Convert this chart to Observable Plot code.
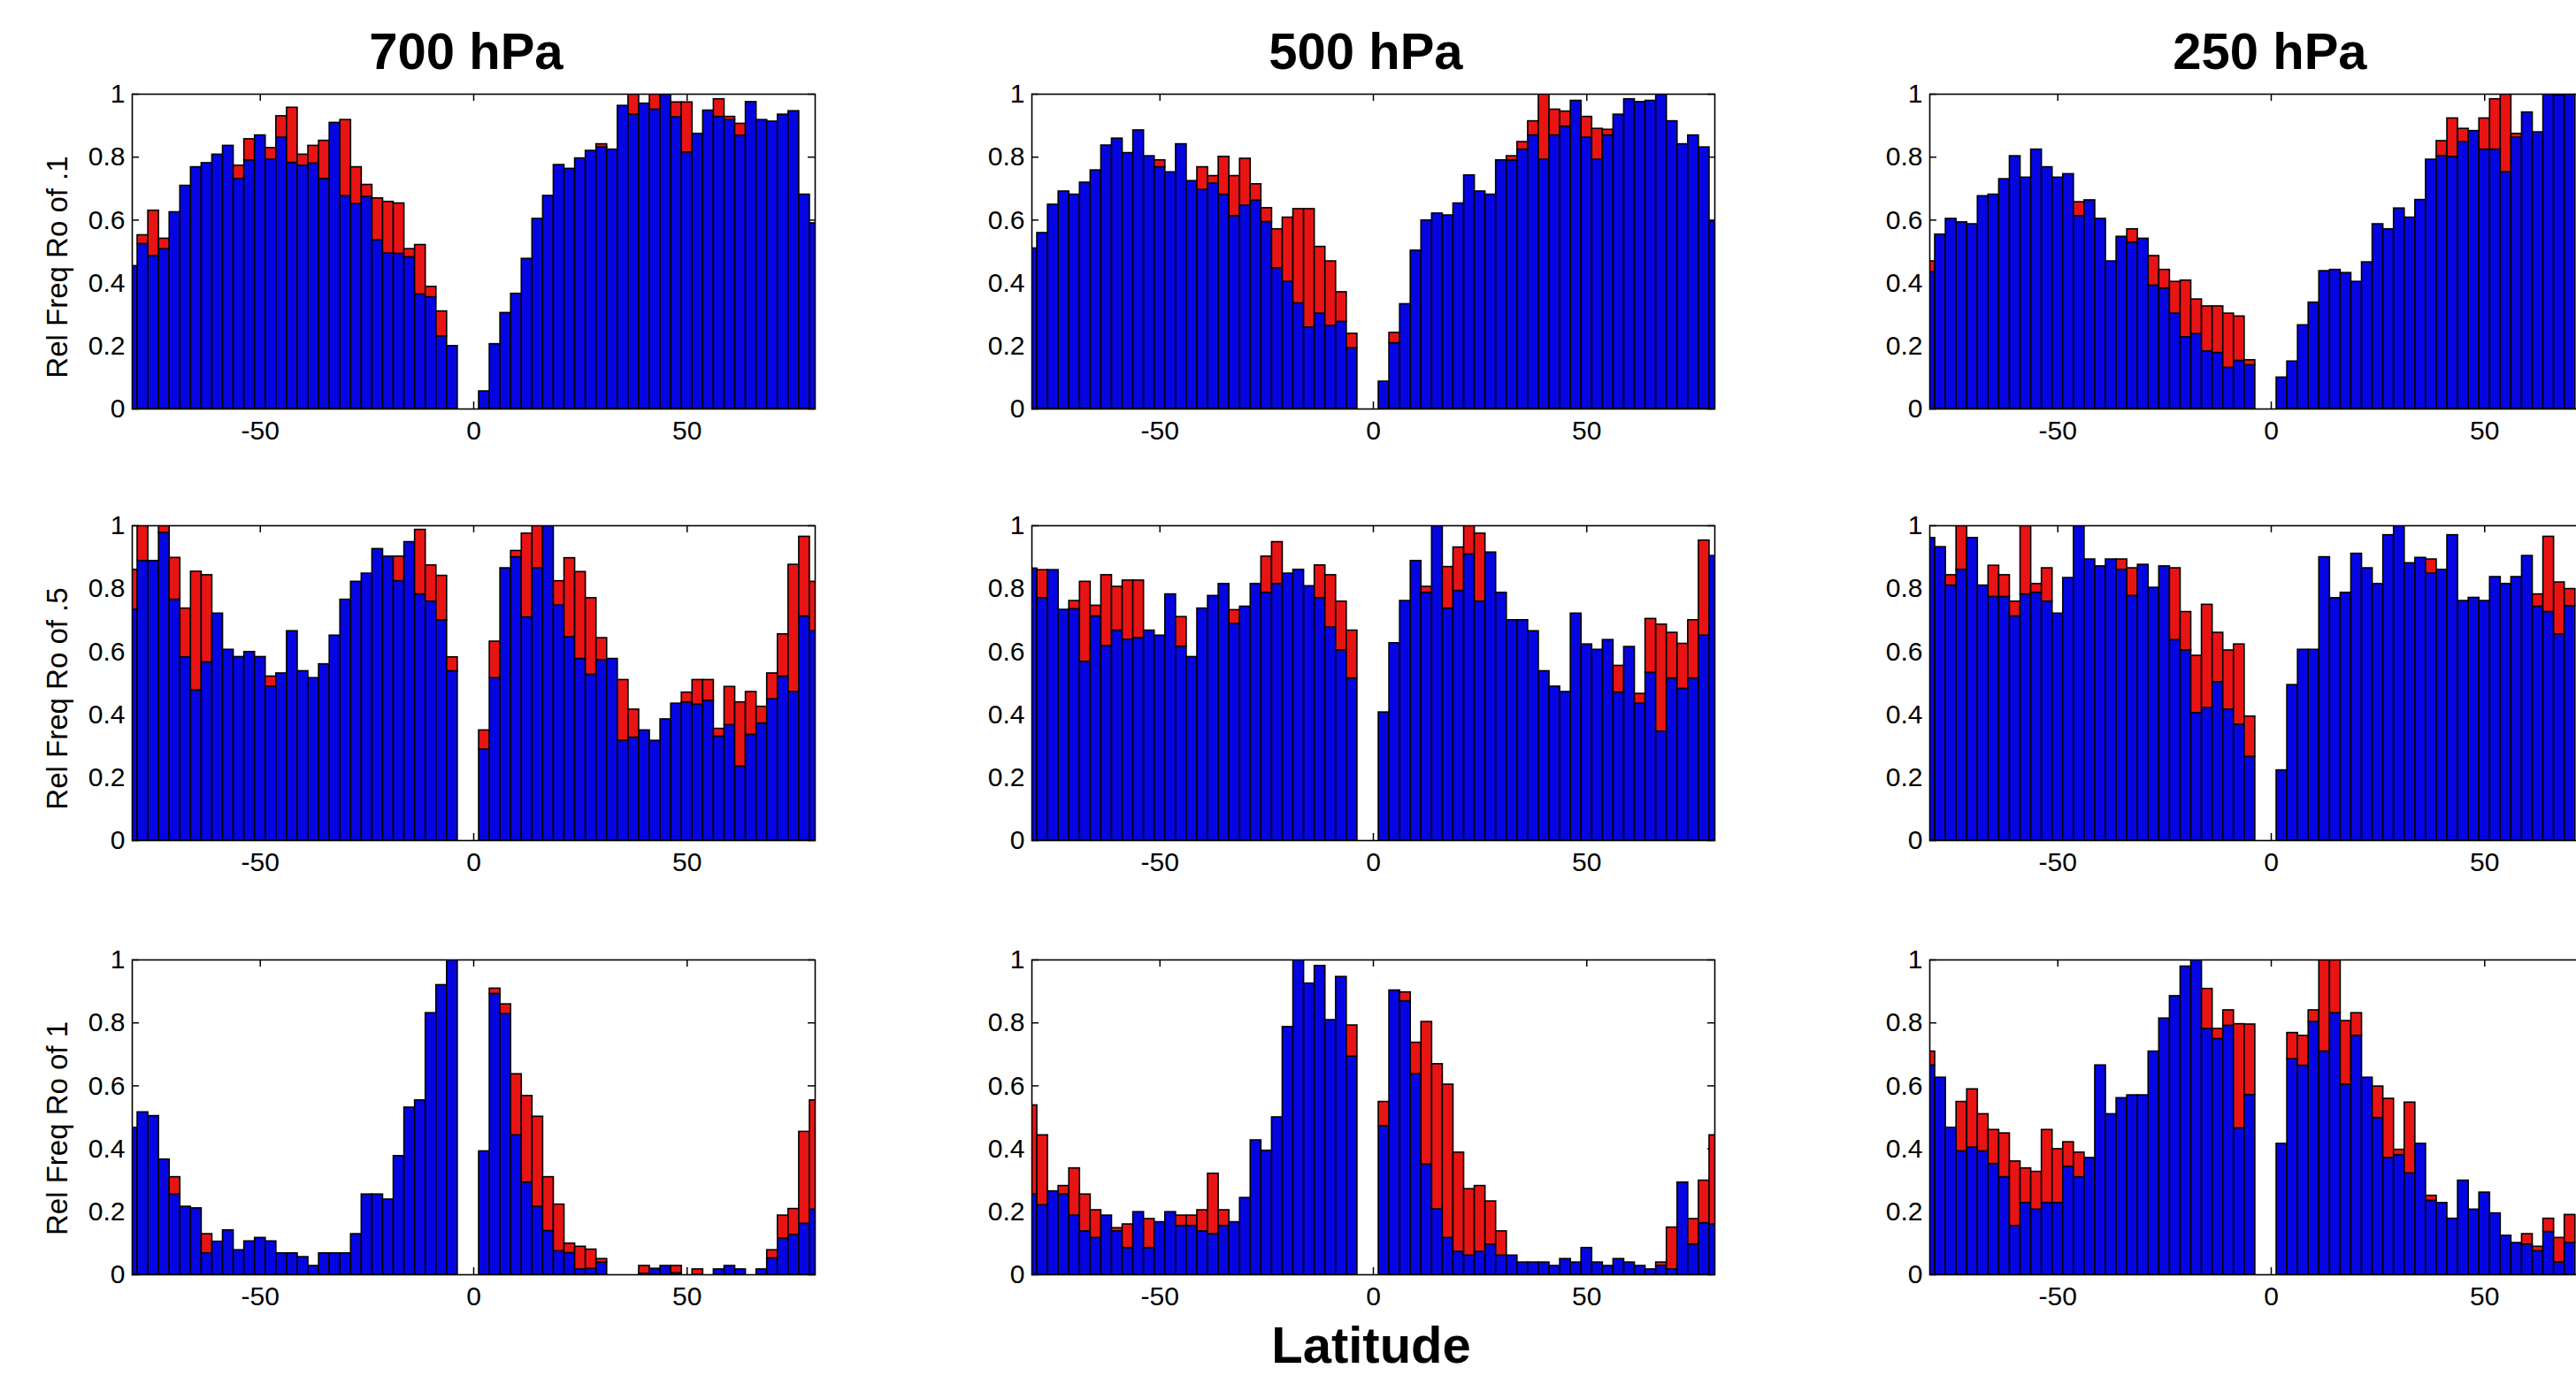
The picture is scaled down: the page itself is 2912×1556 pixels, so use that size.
<!DOCTYPE html>
<html><head><meta charset="utf-8">
<script src="https://cdn.jsdelivr.net/npm/d3@7"></script>
<script src="https://cdn.jsdelivr.net/npm/@observablehq/plot@0.6"></script>
<style>
html,body{margin:0;padding:0;background:#fff;overflow:hidden;}
#fig{position:relative;width:2912px;height:1556px;overflow:hidden;background:#fff;font-family:"Liberation Sans",Arial,Helvetica,sans-serif;}
#fig svg{position:absolute;}
</style></head><body><div id="fig"></div>
<script>
// ---------- data ----------
const lats = [-80,-77.5,-75,-72.5,-70,-67.5,-65,-62.5,-60,-57.5,-55,-52.5,-50,-47.5,-45,-42.5,-40,-37.5,-35,-32.5,-30,-27.5,-25,-22.5,-20,-17.5,-15,-12.5,-10,-7.5,-5,
  2.5,5,7.5,10,12.5,15,17.5,20,22.5,25,27.5,30,32.5,35,37.5,40,42.5,45,47.5,50,52.5,55,57.5,60,62.5,65,67.5,70,72.5,75,77.5,80];

const levels = ["700 hPa", "500 hPa", "250 hPa"];
const rowLabels = ["Rel Freq Ro of .1", "Rel Freq Ro of .5", "Rel Freq Ro of 1"];
const xTicks = [-50, 0, 50];
const yTicks = [0, 0.2, 0.4, 0.6, 0.8, 1];
const xLabel = "Latitude";
const seriesNames = ["base", "extra"];

// 700 hPa, Ro .1
const base700_01 = [0.454,0.524,0.486,0.508,0.625,0.709,0.768,0.781,0.808,0.836,0.731,0.790,0.869,0.792,0.862,0.782,0.773,0.780,0.731,0.909,0.676,0.651,0.674,0.536,0.494,0.493,0.482,0.364,0.355,0.231,0.200,
  0.056,0.206,0.305,0.366,0.477,0.604,0.677,0.775,0.763,0.796,0.820,0.831,0.824,0.963,0.935,0.970,0.951,1.000,0.927,0.815,0.874,0.948,0.928,0.918,0.868,0.975,0.918,0.913,0.935,0.946,0.681,0.590];
const extra700_01 = [0,0.028,0.144,0.033,0,0,0,0,0,0,0.042,0.067,0,0.037,0.068,0.175,0.035,0.056,0.121,0,0.242,0.117,0.038,0.133,0.164,0.160,0.026,0.157,0.033,0.079,0,
  0,0,0,0,0,0,0,0,0,0,0,0.010,0,0,0.070,0,0.050,0,0.047,0.159,0,0,0.056,0.010,0.038,0,0,0,0,0,0,0];
// 500 hPa, Ro .1
const base500_01 = [0.510,0.559,0.649,0.691,0.681,0.719,0.758,0.837,0.859,0.813,0.885,0.803,0.768,0.752,0.841,0.724,0.696,0.716,0.681,0.613,0.646,0.662,0.594,0.447,0.404,0.336,0.259,0.303,0.264,0.277,0.193,
  0.087,0.209,0.333,0.503,0.599,0.621,0.615,0.653,0.742,0.691,0.681,0.790,0.790,0.824,0.869,0.792,0.869,0.897,0.979,0.862,0.792,0.869,0.935,0.984,0.975,0.979,1.000,0.914,0.841,0.869,0.831,0.596];
const extra500_01 = [0,0,0,0,0,0,0,0,0,0,0,0,0.022,0,0,0,0.072,0.024,0.120,0.127,0.149,0.052,0.044,0.124,0.204,0.299,0.376,0.212,0.205,0.094,0.046,
  0,0.033,0,0,0,0,0,0,0,0,0,0,0.013,0.024,0.045,0.220,0.082,0.048,0,0.066,0.098,0.018,0,0,0,0,0,0,0,0,0,0];
// 250 hPa, Ro .1
const base250_01 = [0.435,0.554,0.604,0.593,0.587,0.676,0.681,0.730,0.803,0.735,0.824,0.768,0.735,0.746,0.613,0.663,0.604,0.469,0.547,0.529,0.541,0.392,0.383,0.303,0.228,0.238,0.183,0.178,0.131,0.153,0.139,
  0.100,0.151,0.266,0.338,0.438,0.442,0.432,0.404,0.466,0.587,0.571,0.637,0.608,0.664,0.792,0.803,0.801,0.848,0.883,0.824,0.824,0.752,0.862,0.942,0.879,1.000,0.996,1.000,null,null,null,null];
const extra250_01 = [0.034,0,0,0,0,0,0,0,0,0,0,0,0,0,0.044,0,0,0,0,0.042,0,0.094,0.059,0.101,0.180,0.110,0.143,0.148,0.172,0.141,0.016,
  0,0,0,0,0,0,0,0,0,0,0,0,0,0,0,0.048,0.122,0.042,0,0.099,0.160,0.260,0.012,0,0,0,0,0,null,null,null,null];
// 700 hPa, Ro .5
const base700_05 = [0.733,0.888,0.888,0.977,0.765,0.582,0.477,0.566,0.721,0.606,0.583,0.599,0.583,0.489,0.531,0.665,0.538,0.516,0.560,0.651,0.765,0.822,0.848,0.926,0.902,0.824,0.948,0.782,0.759,0.700,0.538,
  0.289,0.516,0.865,0.900,0.709,0.865,1.000,0.747,0.646,0.577,0.527,0.573,0.577,0.317,0.327,0.350,0.317,0.385,0.435,0.439,0.432,0.444,0.330,0.367,0.235,0.336,0.372,0.449,0.521,0.472,0.712,0.665];
const extra700_05 = [0.127,0.130,0,0.040,0.133,0.155,0.377,0.277,0,0,0,0,0,0.032,0,0,0,0,0,0,0,0,0,0,0,0.078,0,0.205,0.115,0.141,0.044,
  0.061,0.116,0,0.020,0.266,0.150,0,0.077,0.251,0.276,0.243,0.070,0,0.193,0.089,0,0,0,0,0.031,0.078,0.066,0.025,0.121,0.204,0.136,0.053,0.082,0.134,0.404,0.253,0.157];
// 500 hPa, Ro .5
const base500_05 = [0.864,0.770,0.859,0.733,0.735,0.568,0.712,0.618,0.667,0.638,0.643,0.667,0.651,0.782,0.616,0.583,0.737,0.777,0.815,0.688,0.743,0.815,0.787,0.815,0.848,0.860,0.808,0.770,0.677,0.604,0.515,
  0.407,0.627,0.761,0.888,0.787,1.000,0.737,0.793,0.909,0.759,0.915,0.787,0.700,0.700,0.665,0.538,0.489,0.472,0.721,0.623,0.606,0.637,0.470,0.615,0.435,0.533,0.346,0.515,0.482,0.515,0.651,0.904];
const extra500_05 = [0,0.089,0,0,0.026,0.254,0.034,0.225,0.139,0.188,0.183,0,0,0,0.094,0,0,0,0,0.044,0,0,0.115,0.133,0,0,0,0.104,0.166,0.155,0.152,
  0,0,0,0,0.019,0,0.132,0.138,0.100,0.216,0,0,0,0,0,0,0,0,0,0,0,0,0.085,0,0.031,0.171,0.340,0.145,0.143,0.185,0.302,0];
// 250 hPa, Ro .5
const base250_05 = [0.961,0.932,0.810,0.860,0.961,0.810,0.774,0.774,0.712,0.782,0.787,0.759,0.721,0.834,1.000,0.893,0.871,0.893,0.860,0.777,0.876,0.803,0.871,0.637,0.604,0.405,0.421,0.503,0.416,0.368,0.266,
  0.223,0.494,0.606,0.606,0.900,0.770,0.787,0.911,0.865,0.815,0.970,1.000,0.881,0.898,0.848,0.860,0.970,0.761,0.771,0.761,0.837,0.815,0.837,0.904,0.743,0.726,0.655,0.745,null,null,null,null];
const extra250_05 = [0,0,0.033,0.150,0,0,0.099,0.069,0.047,0.220,0.028,0.106,0,0,0,0,0,0,0.033,0.088,0,0,0,0.228,0.122,0.182,0.328,0.157,0.188,0.255,0.128,
  0,0,0,0,0,0,0,0,0,0,0,0,0,0,0.045,0,0,0,0,0,0,0,0,0,0.039,0.239,0.165,0.054,null,null,null,null];
// 700 hPa, Ro 1
const base700_1 = [0.467,0.516,0.504,0.366,0.255,0.216,0.211,0.068,0.105,0.141,0.078,0.106,0.117,0.106,0.068,0.068,0.056,0.028,0.068,0.068,0.068,0.129,0.255,0.255,0.239,0.377,0.531,0.554,0.831,0.920,1.000,
  0.392,0.892,0.828,0.443,0.293,0.216,0.139,0.075,0.069,0.017,0.019,0.039,0,0,0,0.003,0.019,0.028,0.005,0,0,0,0.017,0.028,0.017,0,0.017,0.052,0.115,0.127,0.162,0.207];
const extra700_1 = [0,0,0,0,0.055,0,0,0.061,0,0,0,0,0,0,0,0,0,0,0,0,0,0,0,0,0,0,0,0,0,0,0,
  0,0.017,0.031,0.194,0.275,0.286,0.171,0.148,0.030,0.072,0.061,0.011,0,0,0,0.025,0,0,0.023,0,0.017,0,0,0,0,0,0,0.026,0.073,0.082,0.292,0.347];
// 500 hPa, Ro 1
const base500_1 = [0.255,0.221,0.265,0.255,0.188,0.138,0.117,0.188,0.138,0.085,0.199,0.085,0.167,0.199,0.155,0.155,0.138,0.129,0.155,0.167,0.244,0.427,0.394,0.500,0.787,1.000,0.925,0.981,0.809,0.946,0.693,
  0.472,0.903,0.869,0.637,0.350,0.208,0.117,0.073,0.061,0.073,0.096,0.061,0.061,0.039,0.039,0.039,0.028,0.050,0.039,0.085,0.039,0.028,0.050,0.039,0.028,0.017,0.028,0.017,0.293,0.096,0.164,0.160];
const extra500_1 = [0.283,0.222,0,0.027,0.150,0.117,0.088,0,0.010,0.075,0,0.092,0,0,0.033,0.033,0.067,0.192,0.050,0,0,0,0,0,0,0,0,0,0,0,0.099,
  0.077,0,0.028,0.100,0.453,0.461,0.487,0.315,0.211,0.209,0.137,0.077,0,0,0,0,0,0,0,0,0,0,0,0,0,0,0.011,0.133,0,0.081,0.135,0.283];
// 250 hPa, Ro 1
const base250_1 = [0.665,0.626,0.467,0.392,0.404,0.392,0.352,0.310,0.155,0.228,0.207,0.228,0.228,0.343,0.310,0.371,0.665,0.510,0.561,0.570,0.570,0.709,0.814,0.885,0.979,1.000,0.781,0.749,0.791,0.465,0.571,
  0.416,0.685,0.664,0.803,0.709,0.831,0.604,0.759,0.626,0.498,0.371,0.380,0.322,0.416,0.235,0.228,0.178,0.299,0.207,0.261,0.195,0.124,0.101,0.096,0.075,0.136,0.039,0.101,null,null,null,null];
const extra250_1 = [0.044,0,0,0.157,0.185,0.118,0.108,0.139,0.205,0.110,0.120,0.232,0.171,0.078,0.078,0,0,0,0,0,0,0,0,0,0,0,0.127,0.032,0.049,0.331,0.224,
  0,0.083,0.095,0.037,0.300,0.180,0.202,0.072,0,0.100,0.188,0.017,0.225,0,0.016,0,0,0,0,0,0,0,0,0.033,0.014,0.042,0.078,0.089,null,null,null,null];

const grid = [
  [[base700_01, extra700_01], [base500_01, extra500_01], [base250_01, extra250_01]],
  [[base700_05, extra700_05], [base500_05, extra500_05], [base250_05, extra250_05]],
  [[base700_1, extra700_1], [base500_1, extra500_1], [base250_1, extra250_1]]
];

// ---------- layout ----------
const W = 2912, H = 1556;
const colLeft = [149, 1166, 2181];
const rowTop = [106, 594, 1085];
const plotW = 772, plotH = 356;
const mL = 80, mR = 12, mT = 12, mB = 56;
const BLUE = "#0505e2", RED = "#e81414";
const FONT = '"Liberation Sans", Arial, Helvetica, sans-serif';
const binW = 2.5;
const tickLenY = 8 / plotH, tickLenX = 8 * 160 / plotW;

const fig = document.getElementById("fig");

function rowsFor(base, extra) {
  const out = [];
  lats.forEach((lat, i) => {
    if (base[i] == null) return;
    if (base[i] > 0) out.push({lat, series: seriesNames[0], value: base[i]});
    if (extra[i] > 0) out.push({lat, series: seriesNames[1], value: extra[i]});
  });
  return out;
}

for (let r = 0; r < 3; r++) {
  for (let c = 0; c < 3; c++) {
    const [base, extra] = grid[r][c];
    const data = rowsFor(base, extra);
    const chart = Plot.plot({
      width: plotW + mL + mR,
      height: plotH + mT + mB,
      marginLeft: mL, marginRight: mR, marginTop: mT, marginBottom: mB,
      x: {domain: [-80, 80]},
      y: {domain: [0, 1]},
      color: {domain: seriesNames, range: [BLUE, RED]},
      style: {fontFamily: FONT, color: "black", background: "transparent", overflow: "visible"},
      marks: [
        Plot.ruleX(xTicks, {y1: 0, y2: tickLenY, stroke: "black", strokeWidth: 1.5}),
        Plot.ruleX(xTicks, {y1: 1, y2: 1 - tickLenY, stroke: "black", strokeWidth: 1.5}),
        Plot.ruleY(yTicks, {x1: -80, x2: -80 + tickLenX, stroke: "black", strokeWidth: 1.5}),
        Plot.ruleY(yTicks, {x1: 80, x2: 80 - tickLenX, stroke: "black", strokeWidth: 1.5}),
        Plot.rectY(data, {
          x1: d => d.lat - binW / 2, x2: d => d.lat + binW / 2,
          y: "value", fill: "series", stroke: "black", strokeWidth: 1.6, clip: true
        }),
        Plot.frame({stroke: "black", strokeWidth: 1.6}),
        Plot.axisX(xTicks, {tickSize: 0, tickPadding: 13, fontSize: 30, tickFormat: d => String(d), label: null}),
        Plot.axisY(yTicks, {tickSize: 0, tickPadding: 8, fontSize: 30, tickFormat: d => String(d), label: null})
      ]
    });
    chart.style.left = (colLeft[c] - mL) + "px";
    chart.style.top = (rowTop[r] - mT) + "px";
    fig.appendChild(chart);
  }
}

// ---------- text overlay ----------
const ns = "http://www.w3.org/2000/svg";
const ov = document.createElementNS(ns, "svg");
ov.setAttribute("width", W); ov.setAttribute("height", H);
ov.style.left = "0px"; ov.style.top = "0px"; ov.style.pointerEvents = "none";
function addText(str, x, y, opts) {
  const t = document.createElementNS(ns, "text");
  t.textContent = str;
  t.setAttribute("x", x); t.setAttribute("y", y);
  t.setAttribute("text-anchor", "middle");
  t.setAttribute("font-family", FONT);
  t.setAttribute("fill", "black");
  for (const k in opts) t.setAttribute(k, opts[k]);
  ov.appendChild(t);
}
const titleX = [527, 1544, 2566];
levels.forEach((s, i) => addText(s, titleX[i], 78, {"font-size": 58, "font-weight": "bold"}));
const ylabCY = [302, 790, 1276];
rowLabels.forEach((s, i) => addText(s, 0, 0, {"font-size": 33, transform: `translate(76,${ylabCY[i]}) rotate(-90)`}));
addText(xLabel, 1550, 1541, {"font-size": 58, "font-weight": "bold"});
fig.appendChild(ov);
</script></body></html>
